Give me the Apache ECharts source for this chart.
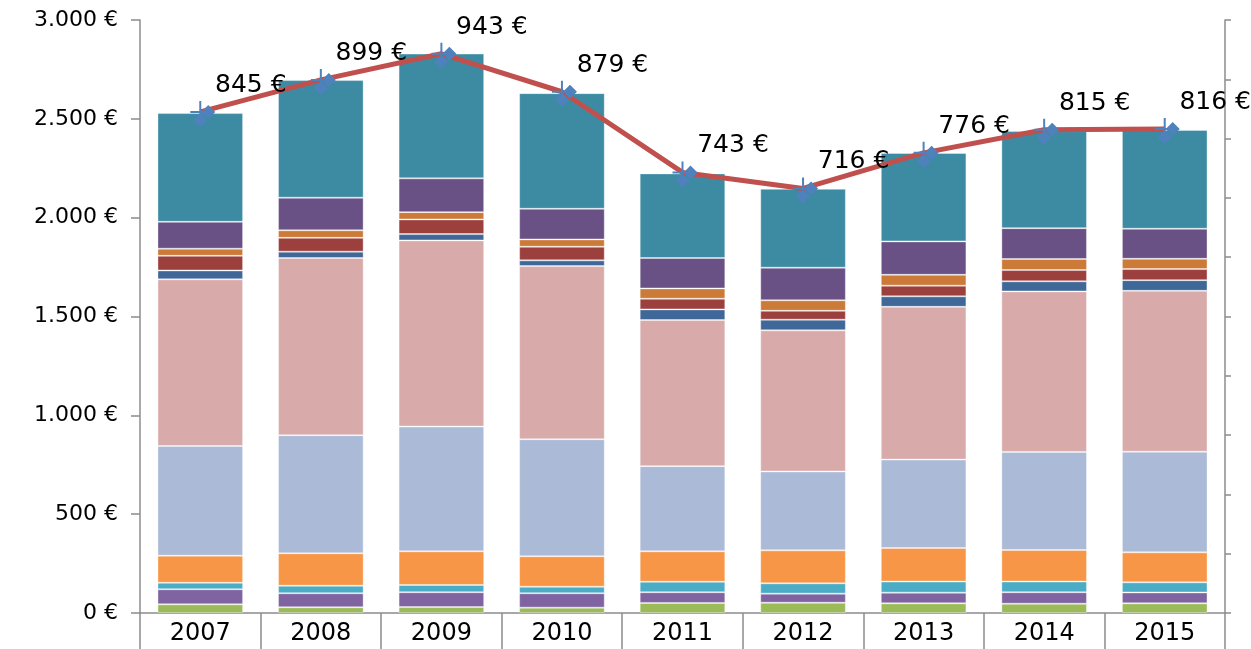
<!DOCTYPE html>
<html>
<head>
<meta charset="utf-8">
<title>Kosten 2007-2015</title>
<script src="https://cdn.jsdelivr.net/npm/echarts@6/dist/echarts.min.js"></script>
<style>
  html, body { margin: 0; padding: 0; background: #fff; }
  #main { width: 1251px; height: 649px; }
</style>
</head>
<body>
<div id="main"></div>
<script>
// data
var years = ['2007', '2008', '2009', '2010', '2011', '2012', '2013', '2014', '2015'];

var green      = [44, 29, 30, 27, 51, 52, 49, 47, 49];
var purple     = [76, 71, 75, 73, 54, 46, 54, 58, 55];
var cyan       = [33, 38, 37, 33, 53, 52, 56, 54, 51];
var orange     = [137, 164, 170, 154, 154, 167, 170, 160, 152];
var lightBlue  = [555, 597, 631, 592, 431, 399, 447, 496, 509];
var pink       = [843, 897, 942, 876, 739, 714, 773, 812, 814];
var darkBlue   = [45, 32, 32, 29, 54, 54, 53, 51, 54];
var darkRed    = [74, 70, 74, 69, 54, 45, 54, 57, 56];
var darkOrange = [36, 38, 37, 37, 52, 53, 55, 56, 52];
var darkPurple = [136, 165, 171, 155, 154, 165, 169, 156, 152];
var teal       = [550, 595, 631, 585, 428, 399, 447, 491, 500];

var lineValues = [845, 899, 943, 879, 743, 716, 776, 815, 816];

var leftTicks = { min: 0, max: 3000, interval: 500 };
var rightTicks = { min: 0, max: 1000, interval: 100 };

var stacks = [
  { name: 'S1', data: green, color: '#9BBB59' },
  { name: 'S2', data: purple, color: '#8064A2' },
  { name: 'S3', data: cyan, color: '#4BACC6' },
  { name: 'S4', data: orange, color: '#F79646' },
  { name: 'S5', data: lightBlue, color: '#AABAD7' },
  { name: 'S6', data: pink, color: '#D9AAAA' },
  { name: 'S7', data: darkBlue, color: '#3F6898' },
  { name: 'S8', data: darkRed, color: '#9C403E' },
  { name: 'S9', data: darkOrange, color: '#CB7A38' },
  { name: 'S10', data: darkPurple, color: '#6A5185' },
  { name: 'S11', data: teal, color: '#3C8BA3' }
];

function euro(v) {
  return String(v).replace(/\B(?=(\d{3})+(?!\d))/g, '.') + ' €';
}

var axisGrey = '#8C8C8C';
var font = 'DejaVu Sans';

// odd excel marker: two blue diamonds and a little cross
var marker = 'path://M18 4L25 11L18 18L11 11Z M10 12L17 19L10 26L3 19Z M9 0L11 0L11 15L9 15Z M0 10L16 10L16 12L0 12Z';

var series = stacks.map(function (s) {
  return {
    name: s.name,
    type: 'bar',
    stack: 'total',
    barCategoryGap: '29%',
    data: s.data,
    itemStyle: { color: s.color, borderColor: 'rgba(255,255,255,0.35)', borderWidth: 1 },
    emphasis: { disabled: true }
  };
});

series.push({
  name: 'Summe',
  type: 'line',
  yAxisIndex: 1,
  data: lineValues,
  z: 10,
  symbol: marker,
  symbolSize: [25, 26],
  symbolOffset: [2.5, 2],
  showAllSymbol: true,
  lineStyle: { color: '#C0504D', width: 5 },
  itemStyle: { color: '#4F81BD' },
  label: {
    show: true,
    position: 'top',
    offset: [48, 2],
    formatter: function (p) { return euro(p.value); },
    fontFamily: font,
    fontSize: 25,
    color: '#000'
  },
  emphasis: { disabled: true }
});

var option = {
  animation: false,
  backgroundColor: '#fff',
  grid: { left: 140, right: 26, top: 20, bottom: 36 },
  xAxis: {
    type: 'category',
    data: years,
    axisLine: { lineStyle: { color: axisGrey, width: 1.5 } },
    axisTick: { show: true, length: 36, lineStyle: { color: axisGrey, width: 1.5 } },
    axisLabel: { color: '#000', fontFamily: font, fontSize: 24, margin: 9 }
  },
  yAxis: [
    {
      type: 'value',
      min: leftTicks.min,
      max: leftTicks.max,
      interval: leftTicks.interval,
      axisLine: { show: true, lineStyle: { color: axisGrey, width: 1.5 } },
      axisTick: { show: true, length: 9, lineStyle: { color: axisGrey, width: 1.5 } },
      splitLine: { show: false },
      axisLabel: { color: '#000', fontFamily: font, fontSize: 22, margin: 22, formatter: euro }
    },
    {
      type: 'value',
      min: rightTicks.min,
      max: rightTicks.max,
      interval: rightTicks.interval,
      axisLine: { show: true, lineStyle: { color: axisGrey, width: 1.5 } },
      axisTick: { show: true, length: 6, lineStyle: { color: axisGrey, width: 1.5 } },
      splitLine: { show: false },
      axisLabel: { show: false }
    }
  ],
  series: series
};

var myChart = echarts.init(document.getElementById('main'));
myChart.setOption(option);
</script>
</body>
</html>
